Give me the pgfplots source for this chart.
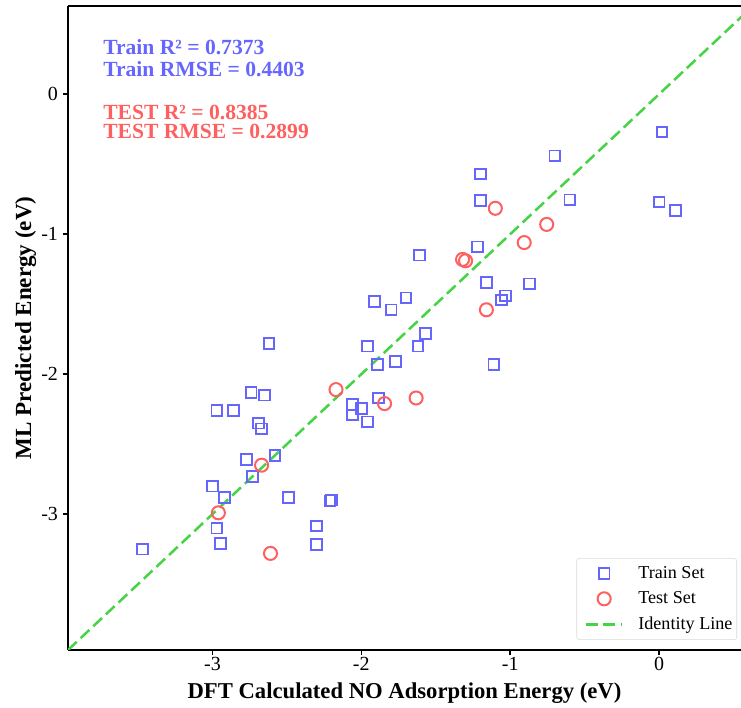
\documentclass[border=0pt]{standalone}
\usepackage{fontspec}
\setmainfont{Liberation Serif}
\usepackage{pgfplots}
\pgfplotsset{compat=1.18}

\definecolor{trainblue}{RGB}{102,102,255}
\definecolor{testred}{RGB}{255,95,95}
\definecolor{idgreen}{RGB}{70,212,70}

\begin{document}
\begin{tikzpicture}
\begin{axis}[
  scale only axis,
  width=504.75pt, height=483pt,
  xmin=-3.97, xmax=0.55, ymin=-3.97, ymax=0.63,
  axis x line*=box, axis y line*=left,
  axis line style={-, line width=1.6pt, black},
  tick align=outside, xtick pos=bottom, ytick pos=left,
  major tick length=4pt,
  tick style={line width=1.2pt, black},
  xtick={-3,-2,-1,0}, xticklabels={-3,-2,-1,0},
  ytick={-3,-2,-1,0}, yticklabels={-3,-2,-1,0},
  ticklabel style={font=\fontsize{15}{18}\selectfont},
  xticklabel style={yshift=2.25pt},
  xlabel={DFT Calculated NO Adsorption Energy (eV)},
  ylabel={ML Predicted Energy (eV)},
  xlabel shift=2.3pt,
  ylabel shift=-3pt,
  xlabel style={font=\fontsize{17}{20}\selectfont\bfseries},
  ylabel style={font=\fontsize{17.3}{20}\selectfont\bfseries},
  legend style={at={(1,0)}, anchor=south east, xshift=-3pt, yshift=7.5pt,
    draw=black!15, rounded corners=2pt, fill=white,
    font=\fontsize{13.6}{16}\selectfont, row sep=4.5pt, inner sep=4pt,
    inner xsep=2.2pt, column sep=10pt, nodes={inner xsep=1pt},
    cells={anchor=west}},
  every axis plot/.append style={
    legend image code/.code={\path (-3.75pt,0pt);
      \draw[mark repeat=2,mark phase=2,#1]
      plot coordinates {(0cm,0cm) (0.48cm,0cm) (0.96cm,0cm)};}},
]
% training set
\addplot[trainblue, only marks, mark=square, mark size=4pt, line width=1.4pt] table {
x y
0.02 -0.27
-0.70 -0.44
-1.20 -0.57
-1.20 -0.76
-0.60 -0.755
0.00 -0.77
0.11 -0.83
-1.22 -1.09
-1.61 -1.15
-1.16 -1.345
-0.87 -1.355
-1.03 -1.44
-1.06 -1.47
-1.70 -1.455
-1.91 -1.48
-1.80 -1.54
-1.57 -1.71
-1.62 -1.80
-1.96 -1.80
-2.62 -1.78
-1.11 -1.93
-1.77 -1.91
-1.89 -1.93
-2.74 -2.13
-2.65 -2.15
-1.886 -2.17
-2.97 -2.26
-2.86 -2.26
-2.06 -2.216
-2.00 -2.245
-2.06 -2.29
-1.96 -2.34
-2.69 -2.35
-2.67 -2.39
-2.77 -2.61
-2.58 -2.58
-2.73 -2.73
-3.00 -2.80
-2.92 -2.88
-2.49 -2.88
-2.21 -2.905
-2.20 -2.90
-2.97 -3.10
-2.945 -3.21
-2.30 -3.085
-2.30 -3.215
-3.47 -3.25
};
\addlegendentry{Train Set}
% test set
\addplot[testred, only marks, mark=o, mark size=4.9pt, line width=1.5pt] table {
x y
-1.10 -0.815
-0.755 -0.93
-0.906 -1.06
-1.32 -1.18
-1.30 -1.19
-1.16 -1.54
-2.17 -2.11
-1.844 -2.21
-1.632 -2.17
-2.67 -2.65
-2.96 -2.99
-2.61 -3.28
};
\addlegendentry{Test Set}
% y = x reference
\addplot[idgreen, line width=1.9pt, dash pattern=on 9pt off 4pt] coordinates {(-3.97,-3.97) (0.63,0.63)};
\addlegendentry{Identity Line}

\node[anchor=base west, inner sep=0, text=trainblue, font=\fontsize{16.2}{18}\selectfont\bfseries] at (rel axis cs:0.052,0.924) {Train R² = 0.7373};
\node[anchor=base west, inner sep=0, text=trainblue, font=\fontsize{16.2}{18}\selectfont\bfseries] at (rel axis cs:0.052,0.891) {Train RMSE = 0.4403};
\node[anchor=base west, inner sep=0, text=testred, font=\fontsize{16.2}{18}\selectfont\bfseries] at (rel axis cs:0.052,0.8245) {TEST R² = 0.8385};
\node[anchor=base west, inner sep=0, text=testred, font=\fontsize{16.2}{18}\selectfont\bfseries] at (rel axis cs:0.052,0.7935) {TEST RMSE = 0.2899};
\end{axis}
\pgfresetboundingbox
\path ([xshift=-51pt, yshift=4.5pt]current axis.north west) rectangle ([yshift=-43.5pt]current axis.south east);
\end{tikzpicture}
\end{document}
